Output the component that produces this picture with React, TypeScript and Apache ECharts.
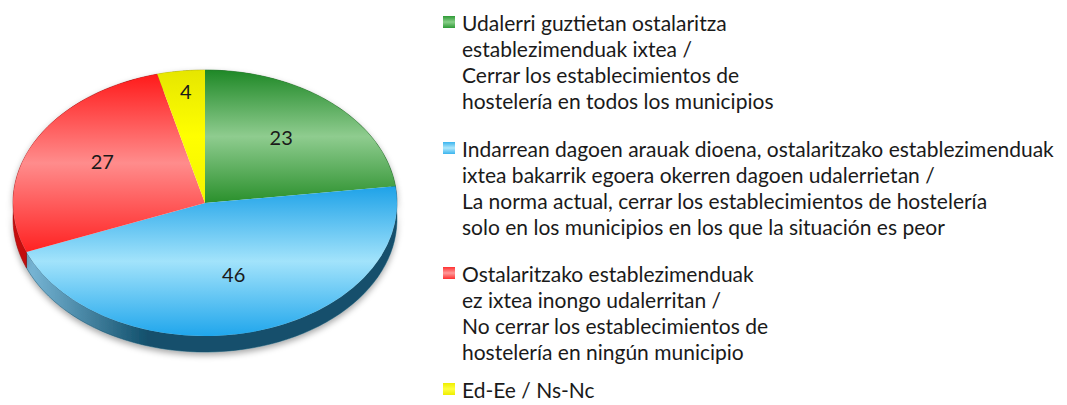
import React, { useEffect, useRef } from "react";
import * as echarts from "echarts";

const categories = [
  "Udalerri guztietan ostalaritza\nestablezimenduak ixtea /\nCerrar los establecimientos de\nhostelería en todos los municipios",
  "Indarrean dagoen arauak dioena, ostalaritzako establezimenduak\nixtea bakarrik egoera okerren dagoen udalerrietan /\nLa norma actual, cerrar los establecimientos de hostelería\nsolo en los municipios en los que la situación es peor",
  "Ostalaritzako establezimenduak\nez ixtea inongo udalerritan /\nNo cerrar los establecimientos de\nhostelería en ningún municipio",
  "Ed-Ee / Ns-Nc",
];
const values = [23, 46, 27, 4];

const topColors = [
  ["#1e8826", "#8fcc8f", "#2a902c"],
  ["#1ea2e8", "#a2e3fb", "#20a6ec"],
  ["#ff1a1a", "#ff8c8c", "#ff2222"],
  ["#e6e600", "#ffff00", "#f4f400"],
];
const sideColors = [
  ["#1b6e20", "#145a18"],
  ["#86c4e4", "#12506c"],
  ["#c81010", "#8a0000"],
  ["#b0b000", "#909000"],
];
const legendColors = [
  ["#2e9a36", "#88cf88"],
  ["#3ab4ee", "#b0e8fc"],
  ["#ff3030", "#ff9a9a"],
  ["#eeee00", "#ffff40"],
];

const CX = 205;
const CY = 203;
const RX = 192;
const RY = 133;
const DEPTH = 16;
const FONT = "Lato";

function angles(i: number) {
  const total = values.reduce((a, b) => a + b, 0);
  let cum = 0;
  for (let k = 0; k < i; k++) cum += values[k];
  const s = -Math.PI / 2 + (2 * Math.PI * cum) / total;
  const e = -Math.PI / 2 + (2 * Math.PI * (cum + values[i])) / total;
  return { s, e, frac: values[i] / total };
}

function vGrad(c: string[]) {
  return new echarts.graphic.LinearGradient(0, 0, 0, 1, [
    { offset: 0, color: c[0] },
    { offset: 0.5, color: c[1] },
    { offset: 1, color: c[2] },
  ]);
}

export default function App() {
  const ref = useRef<HTMLDivElement>(null);
  useEffect(() => {
    if (!ref.current) return;
    const chart = echarts.init(ref.current, null, { renderer: "svg" });
    const data = values.map((v, i) => ({ value: v, name: categories[i] }));

    const sideItem = (params: any, api: any) => {
      const i = params.dataIndex;
      const { s, e } = angles(i);
      const n = 60;
      const top: number[][] = [];
      for (let k = 0; k <= n; k++) {
        const a = s + ((e - s) * k) / n;
        top.push([CX + RX * Math.cos(a), CY + RY * Math.sin(a)]);
      }
      const bottom = top.map((p) => [p[0], p[1] + DEPTH]).reverse();
      const c = sideColors[i];
      return {
        type: "polygon",
        shape: { points: top.concat(bottom) },
        style: {
          fill: new echarts.graphic.LinearGradient(
            CX - RX, 0, CX + RX, 0,
            [
              { offset: 0, color: c[0] },
              { offset: 0.35, color: c[1] },
              { offset: 1, color: c[1] },
            ],
            true
          ),
          stroke: c[1],
          lineWidth: 0.5,
          shadowBlur: 6,
          shadowOffsetY: 3,
          shadowColor: "rgba(0,0,0,0.35)",
        },
      };
    };

    const topItem = (params: any, api: any) => {
      const i = params.dataIndex;
      const { s, e, frac } = angles(i);
      const mid = (s + e) / 2;
      const f = frac < 0.1 ? 0.8 : 0.6;
      const lx = CX + RX * f * Math.cos(mid);
      const ly = CY + RY * f * Math.sin(mid) - 6;
      return {
        type: "group",
        children: [
          {
            type: "sector",
            x: CX,
            y: CY,
            scaleY: RY / RX,
            shape: { cx: 0, cy: 0, r0: 0, r: RX, startAngle: s, endAngle: e, clockwise: true },
            style: { fill: vGrad(topColors[i]) },
          },
          {
            type: "text",
            x: lx,
            y: ly,
            z2: 10,
            style: {
              text: String(api.value(0)),
              fontSize: 20,
              fontFamily: FONT,
              fill: "#1a1a1a",
              align: "center",
              verticalAlign: "middle",
            },
          },
        ],
      };
    };

    const legendTops = [9, 135, 260, 378];
    const legendGraphics: any[] = [];
    categories.forEach((name, i) => {
      const y0 = legendTops[i];
      const single = name.indexOf("\n") < 0;
      const lh = single ? 22 : 26;
      legendGraphics.push({
        type: "rect",
        left: 443,
        top: y0 + lh / 2 - 6,
        shape: { x: 0, y: 0, width: 12, height: 12 },
        style: {
          fill: new echarts.graphic.LinearGradient(0, 0, 0, 1, [
            { offset: 0, color: legendColors[i][0] },
            { offset: 0.5, color: legendColors[i][1] },
            { offset: 1, color: legendColors[i][0] },
          ]),
        },
      });
      legendGraphics.push({
        type: "text",
        left: 462,
        top: y0,
        style: {
          text: name,
          fontSize: 21,
          fontFamily: FONT,
          lineHeight: lh,
          fill: "#1a1a1a",
        },
      });
    });

    chart.setOption({
      animation: false,
      backgroundColor: "#ffffff",
      graphic: legendGraphics,
      series: [
        {
          type: "custom",
          coordinateSystem: "none",
          renderItem: sideItem,
          data,
          z: 1,
          silent: true,
        },
        {
          type: "custom",
          coordinateSystem: "none",
          renderItem: topItem,
          data,
          z: 2,
          silent: true,
        },
      ],
    });
    return () => chart.dispose();
  }, []);
  return (
    <div
      ref={ref}
      style={{ position: "absolute", left: 0, top: 0, width: 1067, height: 405 }}
    />
  );
}
